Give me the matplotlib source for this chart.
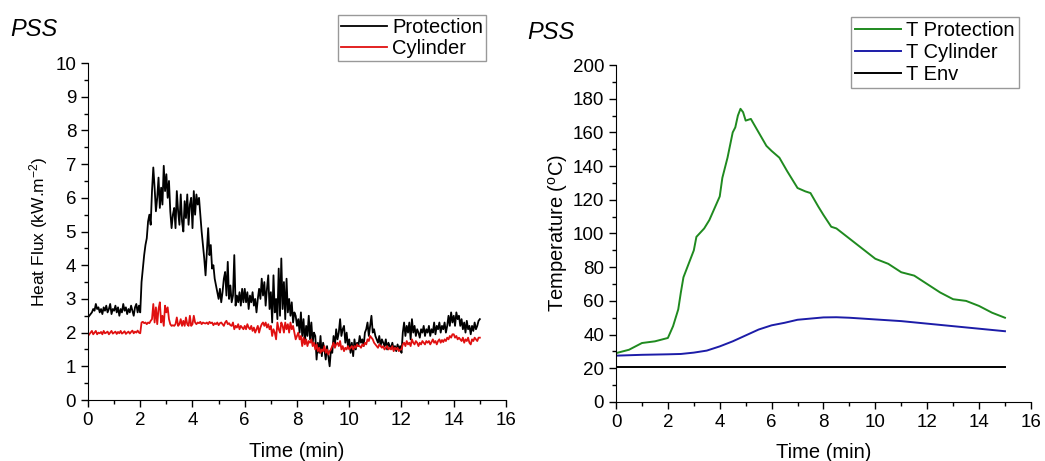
import numpy as np
import matplotlib
matplotlib.use("Agg")
from matplotlib import pyplot as plt
from matplotlib.ticker import MultipleLocator

plt.rcParams['font.family'] = ['Liberation Sans', 'DejaVu Sans']
plt.rcParams['mathtext.fontset'] = 'custom'
plt.rcParams['mathtext.rm'] = 'Liberation Sans'

# Heat flux, one row per minute, sampled every 0.05 min
flux_protection = [
    2.45, 2.5, 2.55, 2.6, 2.7, 2.65, 2.85, 2.7, 2.75, 2.6, 2.7, 2.55, 2.75, 2.65, 2.8, 2.6, 2.7, 2.85, 2.55, 2.7,
    2.65, 2.8, 2.6, 2.75, 2.5, 2.7, 2.6, 2.85, 2.65, 2.75, 2.55, 2.7, 2.6, 2.8, 2.65, 2.5, 2.75, 2.85, 2.6, 2.8,
    2.6, 3.5, 3.9, 4.3, 4.6, 4.8, 5.3, 5.5, 5.2, 6.2, 6.9, 6.3, 5.6, 6.0, 6.6, 5.7, 6.3, 5.8, 6.95, 6.2,
    6.7, 6.0, 6.5, 5.6, 5.1, 5.5, 5.7, 5.1, 6.2, 5.6, 5.2, 6.1, 5.3, 5.0, 5.9, 5.4, 6.1, 5.2, 5.8, 6.0,
    5.1, 6.2, 5.5, 6.1, 5.8, 6.0, 5.5, 5.0, 4.6, 4.2, 3.7, 4.4, 5.1, 4.3, 4.6, 3.9, 4.0, 3.6, 3.4, 3.2,
    3.0, 3.3, 2.9, 3.2, 3.6, 3.8, 3.1, 4.1, 3.0, 3.4, 2.9, 3.1, 4.3, 2.8, 3.1, 2.9, 3.2, 2.8, 3.3, 2.9,
    3.3, 2.9, 3.2, 2.7, 3.1, 2.9, 3.2, 2.8, 3.0, 2.6, 3.0, 3.3, 3.0, 3.6, 3.1, 3.5, 2.8, 3.3, 3.7, 2.7,
    3.2, 2.3, 3.7, 2.6, 3.0, 2.4, 3.9, 2.5, 4.2, 2.7, 3.5, 2.4, 3.6, 2.6, 3.0, 2.5, 2.9, 2.3, 2.6, 2.5,
    2.2, 2.4, 2.0, 2.6, 1.9, 2.4, 1.7, 2.2, 1.9, 2.5, 1.8, 2.3, 1.7, 2.0, 1.9, 1.2, 1.7, 1.4, 1.9, 1.3,
    1.7, 1.5, 1.2, 1.6, 1.3, 1.0, 1.5, 1.4, 1.9, 1.6, 2.1, 1.8, 2.0, 2.4, 1.9, 2.1, 2.2, 1.7, 2.0, 1.6,
    1.8, 1.4, 1.7, 1.3, 1.8, 1.5, 1.7, 1.6, 1.9, 1.7, 1.8, 1.6, 2.0, 2.1, 2.3, 1.9, 2.2, 2.5, 2.0, 2.1,
    1.9, 1.8, 1.7, 1.9, 1.6, 1.8, 1.7, 1.6, 1.8, 1.5, 1.7, 1.6, 1.55, 1.7, 1.5, 1.6, 1.45, 1.65, 1.5, 1.6,
    1.4, 2.0, 2.3, 1.9, 2.2, 2.0, 2.3, 1.8, 2.4, 2.0, 2.2, 1.9, 2.1, 2.0, 1.85, 2.1, 2.0, 2.2, 1.9, 2.1,
    2.0, 2.2, 1.9, 2.1, 2.0, 2.3, 1.95, 2.2, 2.1, 2.3, 2.0, 2.2, 2.1, 2.3, 2.0, 2.2, 2.5, 2.2, 2.6, 2.3,
    2.5, 2.2, 2.6, 2.4, 2.5, 2.2, 2.4, 2.1, 2.3, 2.0, 2.35, 2.1, 2.2, 1.95, 2.2, 2.05, 2.3, 2.1, 2.2, 2.35,
    2.4,
]
flux_cylinder = [
    1.9, 1.95, 2.0, 2.05, 1.95, 2.0, 2.05, 1.95, 2.0, 1.98, 2.02, 1.95, 2.05, 1.98, 2.0, 2.03, 1.95, 2.0, 2.05, 1.97,
    2.0, 2.03, 1.96, 2.02, 1.98, 2.05, 1.97, 2.0, 2.04, 1.96, 2.0, 2.03, 1.97, 2.02, 2.06, 1.98, 2.03, 2.0, 2.06, 2.0,
    1.98, 2.3, 2.32, 2.28, 2.3, 2.25, 2.3, 2.28, 2.35, 2.4, 2.85, 2.3, 2.75, 2.25, 2.7, 2.9, 2.3, 2.5, 2.2, 2.8,
    2.6, 2.75, 2.4, 2.25, 2.2, 2.22, 2.2, 2.25, 2.45, 2.2, 2.25, 2.4, 2.2, 2.35, 2.2, 2.45, 2.25, 2.2, 2.5, 2.2,
    2.25, 2.5, 2.3, 2.25, 2.3, 2.28, 2.32, 2.25, 2.3, 2.28, 2.27, 2.3, 2.25, 2.32, 2.28, 2.3, 2.22, 2.28, 2.25, 2.3,
    2.22, 2.28, 2.3, 2.25, 2.2, 2.3, 2.35, 2.25, 2.28, 2.22, 2.2, 2.3, 2.1, 2.2, 2.15, 2.25, 2.1, 2.2, 2.15, 2.1,
    2.2, 2.1, 2.25, 2.15, 2.1, 2.2, 2.05, 2.15, 2.0, 2.1, 2.2, 2.0, 2.15, 2.25, 2.3, 2.2, 2.3, 2.15, 2.25, 2.1,
    2.2, 1.9, 2.1, 2.0, 1.8, 2.3, 2.1, 2.0, 2.3, 2.2, 2.0, 2.3, 2.1, 2.25, 2.0, 2.3, 2.1, 2.2, 2.0, 1.8,
    1.9, 2.0, 1.8, 1.9, 1.6, 1.85, 1.65, 1.8, 1.6, 1.75, 1.7, 1.8, 1.6, 1.7, 1.5, 1.65, 1.45, 1.55, 1.4, 1.5,
    1.45, 1.6, 1.4, 1.5, 1.35, 1.45, 1.5, 1.6, 1.7, 1.55, 1.65, 1.7, 1.6, 1.75, 1.5, 1.6, 1.45, 1.55, 1.5, 1.6,
    1.5, 1.55, 1.6, 1.5, 1.6, 1.55, 1.65, 1.6, 1.6, 1.55, 1.65, 1.6, 1.7, 1.65, 1.8, 1.75, 1.9, 1.85, 1.8, 1.7,
    1.65, 1.6, 1.55, 1.65, 1.6, 1.55, 1.6, 1.5, 1.55, 1.6, 1.5, 1.55, 1.5, 1.6, 1.45, 1.55, 1.5, 1.55, 1.45, 1.5,
    1.5, 1.65, 1.7, 1.6, 1.75, 1.65, 1.7, 1.6, 1.8, 1.7, 1.65, 1.75, 1.7, 1.6, 1.7, 1.65, 1.75, 1.7, 1.65, 1.75,
    1.7, 1.75, 1.65, 1.72, 1.8, 1.7, 1.75, 1.65, 1.75, 1.8, 1.7, 1.78, 1.72, 1.8, 1.75, 1.85, 1.8, 1.9, 1.85, 1.95,
    1.95, 1.85, 1.9, 1.8, 1.85, 1.8, 1.75, 1.85, 1.7, 1.8, 1.75, 1.85, 1.7, 1.65, 1.8, 1.75, 1.85, 1.8, 1.75, 1.85,
    1.85,
]
t_flux = np.linspace(0, 15, len(flux_protection))

# Temperatures
t_prot = [0, 0.5, 1.0, 1.5, 2.0, 2.2, 2.4, 2.5, 2.6, 2.8, 3.0, 3.1, 3.4, 3.6, 3.8, 4.0, 4.1, 4.3,
          4.5, 4.6, 4.7, 4.8, 4.9, 5.0, 5.2, 5.5, 5.8, 6.0, 6.3, 6.6, 7.0, 7.3, 7.5, 7.8, 8.0,
          8.3, 8.5, 9.0, 9.5, 10.0, 10.5, 11.0, 11.5, 12.0, 12.5, 13.0, 13.5, 14.0, 14.5, 15.0]
temp_prot = [29, 31, 35, 36, 38, 45, 55, 65, 74, 82, 90, 98, 103, 108, 115, 122, 133, 145,
             160, 163, 170, 174, 172, 167, 168, 160, 152, 149, 145, 137, 127, 125, 124, 116, 111,
             104, 103, 97, 91, 85, 82, 77, 75, 70, 65, 61, 60, 57, 53, 50]
t_cyl = [0, 1, 2, 2.5, 3, 3.5, 4, 4.5, 5, 5.5, 6, 6.5, 7, 7.5, 8, 8.5, 9, 10, 11, 12, 13, 14, 15]
temp_cyl = [27.5, 28, 28.3, 28.5, 29.3, 30.5, 33, 36, 39.5, 43, 45.5, 47, 48.8, 49.5, 50.2, 50.3,
            50, 49, 48, 46.5, 45, 43.5, 42]
t_env = [0, 15]
temp_env = [21, 21]

green = '#1f8a1f'
blue = '#1c1ca8'


def style_axes(ax):
    ax.spines['top'].set_visible(False)
    ax.spines['right'].set_visible(False)
    ax.tick_params(which='both', direction='out', labelsize=13.5)
    ax.tick_params(which='major', length=5, width=1)
    ax.tick_params(which='minor', length=3, width=1)
    ax.set_xlim(0, 16)
    ax.xaxis.set_major_locator(MultipleLocator(2))
    ax.xaxis.set_minor_locator(MultipleLocator(1))
    ax.set_xlabel('Time (min)', fontsize=14.5)


fig = plt.figure(figsize=(10.45, 4.61), dpi=100)
ax1 = fig.add_axes([0.0842, 0.1323, 0.4, 0.731])
ax2 = fig.add_axes([0.5895, 0.128, 0.397, 0.731])

# left: heat flux
ax1.plot(t_flux, flux_protection, color='black', lw=1.3, label='Protection')
ax1.plot(t_flux, flux_cylinder, color='#e01010', lw=1.3, label='Cylinder')
style_axes(ax1)
ax1.set_ylim(0, 10)
ax1.yaxis.set_major_locator(MultipleLocator(1))
ax1.yaxis.set_minor_locator(MultipleLocator(0.5))
ax1.set_ylabel('Heat Flux (kW.m$\\mathregular{^{-2}}$)', fontsize=12.5)
ax1.yaxis.set_label_coords(-0.091, 0.5)
ax1.xaxis.set_label_coords(0.5, -0.125)
ax1.legend(loc='upper right', bbox_to_anchor=(0.465, 0.967), bbox_transform=fig.transFigure,
           fontsize=14.5, handlelength=2.3, handletextpad=0.25, borderpad=0.15, labelspacing=0.1,
           fancybox=False, framealpha=1, edgecolor='#999999', borderaxespad=0)

# right: temperatures
ax2.plot(t_prot, temp_prot, color=green, lw=1.4, label='T Protection')
ax2.plot(t_cyl, temp_cyl, color=blue, lw=1.4, label='T Cylinder')
ax2.plot(t_env, temp_env, color='black', lw=1.4, label='T Env')
style_axes(ax2)
ax2.set_ylim(0, 200)
ax2.yaxis.set_major_locator(MultipleLocator(20))
ax2.yaxis.set_minor_locator(MultipleLocator(10))
ax2.set_ylabel('Temperature ($\\mathregular{^o}$C)', fontsize=14.5)
ax2.yaxis.set_label_coords(-0.111, 0.5)
ax2.xaxis.set_label_coords(0.5, -0.122)
ax2.legend(loc='upper right', bbox_to_anchor=(0.975, 0.963), bbox_transform=fig.transFigure,
           fontsize=14.5, handlelength=2.3, handletextpad=0.25, borderpad=0.2, labelspacing=0.15,
           fancybox=False, framealpha=1, edgecolor='#999999', borderaxespad=0)

fig.text(0.0096, 0.935, 'PSS', fontsize=17, style='italic', va='center', ha='left')
fig.text(0.505, 0.93, 'PSS', fontsize=17, style='italic', va='center', ha='left')

fig.savefig('out.png', dpi=100)
